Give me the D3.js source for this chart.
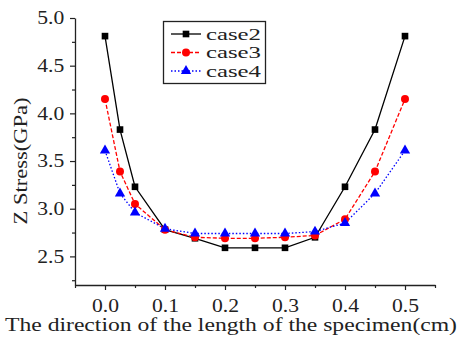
<!DOCTYPE html>
<html><head><meta charset="utf-8">
<script src="https://cdn.jsdelivr.net/npm/d3@7"></script>
<style>body{margin:0;background:#fff}svg{display:block}</style>
</head><body><svg id="c" width="462" height="340"></svg>
<script>
const xValues = [0, 0.025, 0.05, 0.1, 0.15, 0.2, 0.25, 0.3, 0.35, 0.4, 0.45, 0.5];
const case2 = [4.81, 3.83, 3.23, 2.78, 2.69, 2.59, 2.59, 2.59, 2.70, 3.23, 3.83, 4.81];
const case3 = [4.15, 3.39, 3.05, 2.78, 2.70, 2.69, 2.69, 2.70, 2.72, 2.89, 3.39, 4.15];
const case4 = [3.61, 3.16, 2.96, 2.79, 2.74, 2.74, 2.74, 2.74, 2.76, 2.85, 3.16, 3.61];
const seriesNames = ["case2", "case3", "case4"];
const xTicks = [0, 0.1, 0.2, 0.3, 0.4, 0.5];
const yTicks = [2.5, 3.0, 3.5, 4.0, 4.5, 5.0];
const xLabel = "The direction of the length of the specimen(cm)";
const yLabel = "Z Stress(GPa)";

const FONT = "'Liberation Serif','Times New Roman',serif";
const svg = d3.select("#c");
const x = d3.scaleLinear().domain([-0.05, 0.55]).range([75, 435]);
const y = d3.scaleLinear().domain([2.2, 5.0]).range([285, 18]);

const styles = [
  {color:"#000", dash:null, shape:d3.symbolSquare, size:44},
  {color:"#ff0000", dash:"4,2", shape:d3.symbolCircle, size:50},
  {color:"#0000ff", dash:"1.5,2", shape:d3.symbolTriangle, size:46}
];
const data = [case2, case3, case4];

// axes
const xAxis = d3.axisBottom(x).tickValues(xTicks).tickFormat(d3.format(".1f")).tickSize(5).tickSizeOuter(0);
const gx = svg.append("g").attr("transform", `translate(0,${y.range()[0]})`).call(xAxis);
const xMinor = d3.axisBottom(x).tickValues([-0.05,0.05,0.15,0.25,0.35,0.45,0.55]).tickFormat("").tickSize(3).tickSizeOuter(0);
svg.append("g").attr("transform", `translate(0,${y.range()[0]})`).call(xMinor).select(".domain").remove();
const yAxis = d3.axisLeft(y).tickValues(yTicks).tickFormat(d3.format(".1f")).tickSize(5).tickSizeOuter(0);
const gy = svg.append("g").attr("transform", `translate(${x.range()[0]},0)`).call(yAxis);
const yMinor = d3.axisLeft(y).tickValues([2.25,2.75,3.25,3.75,4.25,4.75]).tickFormat("").tickSize(3).tickSizeOuter(0);
svg.append("g").attr("transform", `translate(${x.range()[0]},0)`).call(yMinor).select(".domain").remove();
svg.selectAll(".domain").attr("stroke", "#222").attr("stroke-width", 1.3);
svg.selectAll(".tick line").attr("stroke", "#222").attr("stroke-width", 1.2);
svg.selectAll("g").attr("font-family", FONT);
gx.selectAll(".tick text").attr("font-size", 18).attr("fill", "#222").attr("dy", "1.05em")
  .attr("textLength", 27).attr("lengthAdjust", "spacingAndGlyphs");
gy.selectAll(".tick text").attr("font-size", 18).attr("fill", "#222").attr("dx", "-0.15em")
  .attr("textLength", 27).attr("lengthAdjust", "spacingAndGlyphs");

svg.append("text").attr("x", 231).attr("y", 331).attr("text-anchor", "middle")
  .attr("font-family", FONT).attr("font-size", 18.5).attr("fill", "#222")
  .attr("textLength", 452).attr("lengthAdjust", "spacingAndGlyphs").text(xLabel);
svg.append("text").attr("transform", "translate(27,161) rotate(-90)").attr("text-anchor", "middle")
  .attr("font-family", FONT).attr("font-size", 19).attr("fill", "#222")
  .attr("textLength", 127).attr("lengthAdjust", "spacingAndGlyphs").text(yLabel);

// series
const line = d3.line().x((d,i)=>x(xValues[i])).y(d=>y(d));
data.forEach((vals, k) => {
  const s = styles[k];
  svg.append("path").datum(vals).attr("d", line).attr("fill", "none")
    .attr("stroke", s.color).attr("stroke-width", 1.3).attr("stroke-dasharray", s.dash);
});
data.forEach((vals, k) => {
  const s = styles[k];
  svg.append("g").selectAll("path").data(vals).join("path")
    .attr("transform", (d,i)=>`translate(${x(xValues[i])},${y(d)})`)
    .attr("d", d3.symbol().type(s.shape).size(s.size)).attr("fill", s.color);
});

// legend
const lg = svg.append("g");
lg.append("rect").attr("x", 163.5).attr("y", 21.5).attr("width", 102).attr("height", 62)
  .attr("fill", "#fff").attr("stroke", "#222").attr("stroke-width", 1.3);
seriesNames.forEach((n, k) => {
  const s = styles[k];
  const ly = 34 + k * 18.5;
  lg.append("line").attr("x1", 171).attr("x2", 201).attr("y1", ly).attr("y2", ly)
    .attr("stroke", s.color).attr("stroke-width", 1.3).attr("stroke-dasharray", s.dash);
  lg.append("path").attr("transform", `translate(186,${ly})`)
    .attr("d", d3.symbol().type(s.shape).size(s.size)).attr("fill", s.color);
  lg.append("text").attr("x", 206).attr("y", ly).attr("dy", "0.35em")
    .attr("font-family", FONT).attr("font-size", 16).attr("fill", "#222")
    .attr("textLength", 55).attr("lengthAdjust", "spacingAndGlyphs").text(n);
});
</script></body></html>
